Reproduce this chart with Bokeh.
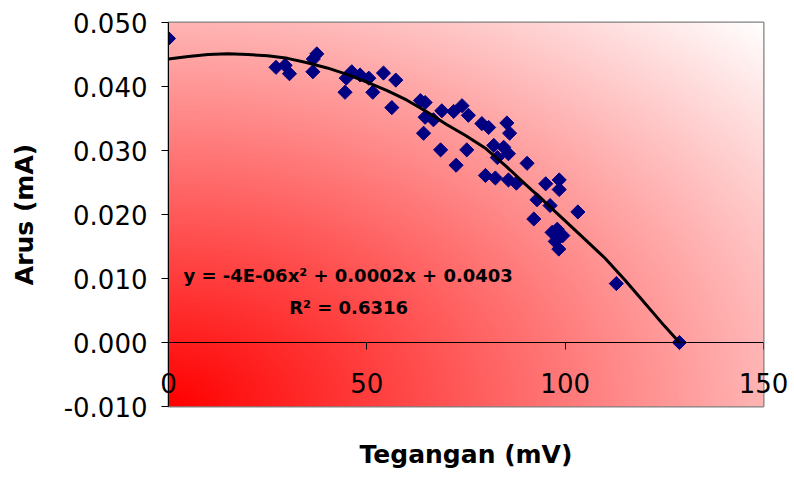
import numpy as np
from bokeh.plotting import figure
from bokeh.models import (ColumnDataSource, FixedTicker, NumeralTickFormatter, Label,
                          Range1d, LinearAxis)
from bokeh.embed import file_html
from bokeh.resources import INLINE

# ---- data ----
tegangan = [0.0, 27.1, 29.4, 30.5, 37.4, 36.5, 36.4, 44.8, 46.2, 44.5,
            48.3, 50.5, 51.5, 54.2, 57.3, 56.3, 63.5, 64.7, 64.7, 66.8,
            64.3, 68.9, 71.9, 74.0, 75.6, 68.6, 75.2, 72.5, 79.0, 80.7,
            85.3, 86.0, 82.0, 84.5, 85.7, 82.9, 79.9, 82.4, 85.7, 87.7,
            90.4, 95.1, 98.5, 98.5, 92.9, 96.2, 103.2, 92.1, 96.7, 98.0,
            99.4, 98.4, 97.5, 112.9, 128.8]
arus = [0.0475, 0.0430, 0.0433, 0.0420, 0.0451, 0.0443, 0.0423, 0.0413, 0.0423, 0.0391,
        0.0418, 0.0413, 0.0391, 0.0421, 0.0410, 0.0367, 0.0378, 0.0375, 0.0352, 0.0348,
        0.0327, 0.0362, 0.0361, 0.0370, 0.0355, 0.0301, 0.0301, 0.0277, 0.0342, 0.0336,
        0.0343, 0.0327, 0.0308, 0.0305, 0.0295, 0.0289, 0.0261, 0.0257, 0.0254, 0.0249,
        0.0280, 0.0248, 0.0254, 0.0239, 0.0223, 0.0214, 0.0204, 0.0193, 0.0172, 0.0177,
        0.0167, 0.0146, 0.0158, 0.0092, 0.0000]

# trend line as drawn in the picture
trend_x = [0, 5, 10, 15, 20, 25, 30, 35, 40, 45, 50, 55, 60, 65, 70, 75, 80,
           85, 90, 95, 100, 105, 110, 115, 120, 125, 128.8]
trend_y = [0.0443, 0.0447, 0.0450, 0.0451, 0.0450, 0.0448, 0.0444, 0.0437, 0.0429,
           0.0419, 0.0407, 0.0394, 0.0379, 0.0361, 0.0341, 0.0323, 0.0303, 0.0276,
           0.0247, 0.0219, 0.0190, 0.0161, 0.0132, 0.0098, 0.0062, 0.0026, 0.0000]

x_ticks = [0, 50, 100, 150]
y_ticks = [-0.010, 0.000, 0.010, 0.020, 0.030, 0.040, 0.050]

x_title = "Tegangan (mV)"
y_title = "Arus (mA)"
equation_text = "y = -4E-06x\u00b2 + 0.0002x + 0.0403"
r2_text = "R\u00b2 = 0.6316"

FONT = "DejaVu Sans"

p = figure(width=794, height=479,
           x_range=Range1d(0, 150), y_range=Range1d(-0.010, 0.050),
           output_backend="svg", toolbar_location=None,
           min_border_left=168, min_border_right=31,
           min_border_top=22, min_border_bottom=73)

p.background_fill_color = "white"
p.border_fill_color = "white"
p.outline_line_color = "#808080"
p.outline_line_width = 2
p.grid.visible = False

# gradient background (red at lower-left corner to white at upper-right)
nx, ny = 300, 200
U, V = np.meshgrid(np.linspace(0, 1, nx), np.linspace(0, 1, ny))
t = np.clip(np.sqrt((U ** 2 + V ** 2) / 2.0), 0, 1)
img = np.empty((ny, nx), dtype=np.uint32)
view = img.view(dtype=np.uint8).reshape((ny, nx, 4))
view[:, :, 0] = 255
view[:, :, 1] = (255 * t).astype(np.uint8)
view[:, :, 2] = (255 * t).astype(np.uint8)
view[:, :, 3] = 255
p.image_rgba(image=[img], x=0, y=-0.010, dw=150, dh=0.060)

src = ColumnDataSource(dict(x=tegangan, y=arus))
p.scatter("x", "y", source=src, marker="square", size=10, angle=np.pi / 4,
          fill_color="#000080", line_color="#000080")

p.line(trend_x, trend_y, line_color="black", line_width=3)

# bottom axis: only tick labels (pulled up into the plot) and the title
xa = p.xaxis[0]
xa.ticker = FixedTicker(ticks=x_ticks)
xa.axis_line_color = None
xa.major_tick_line_color = None
xa.minor_tick_line_color = None
xa.major_tick_in = 0
xa.major_tick_out = 0
xa.major_label_standoff = -34
xa.major_label_text_font = FONT
xa.major_label_text_font_size = "26px"
xa.major_label_text_color = "black"
xa.axis_label = x_title
xa.axis_label_text_font = FONT
xa.axis_label_text_font_style = "bold"
xa.axis_label_text_font_size = "25px"
xa.axis_label_text_color = "black"
xa.axis_label_standoff = 44

# axis line crossing at y = 0 with its ticks
zero_axis = LinearAxis(fixed_location=0, ticker=FixedTicker(ticks=x_ticks),
                       axis_line_color="black", major_tick_line_color="black",
                       minor_tick_line_color=None, major_tick_in=0, major_tick_out=7,
                       major_label_text_color=None, major_label_text_font_size="1px")
p.add_layout(zero_axis, "below")

ya = p.yaxis[0]
ya.ticker = FixedTicker(ticks=y_ticks)
ya.formatter = NumeralTickFormatter(format="0.000")
ya.minor_tick_line_color = None
ya.major_tick_in = 0
ya.major_tick_out = 7
ya.axis_line_color = "black"
ya.major_tick_line_color = "black"
ya.major_label_standoff = 14
ya.major_label_text_font = FONT
ya.major_label_text_font_size = "26px"
ya.major_label_text_color = "black"
ya.axis_label = y_title
ya.axis_label_text_font = FONT
ya.axis_label_text_font_style = "bold"
ya.axis_label_text_font_size = "25px"
ya.axis_label_text_color = "black"
ya.axis_label_standoff = 22

p.add_layout(Label(x=45.3, y=0.0105, text=equation_text, text_font=FONT,
                   text_font_style="bold", text_font_size="18px",
                   text_align="center", text_baseline="middle", text_color="black"))
p.add_layout(Label(x=45.4, y=0.0055, text=r2_text, text_font=FONT,
                   text_font_style="bold", text_font_size="18px",
                   text_align="center", text_baseline="middle", text_color="black"))

open("out.html", "w").write(file_html(p, INLINE))
